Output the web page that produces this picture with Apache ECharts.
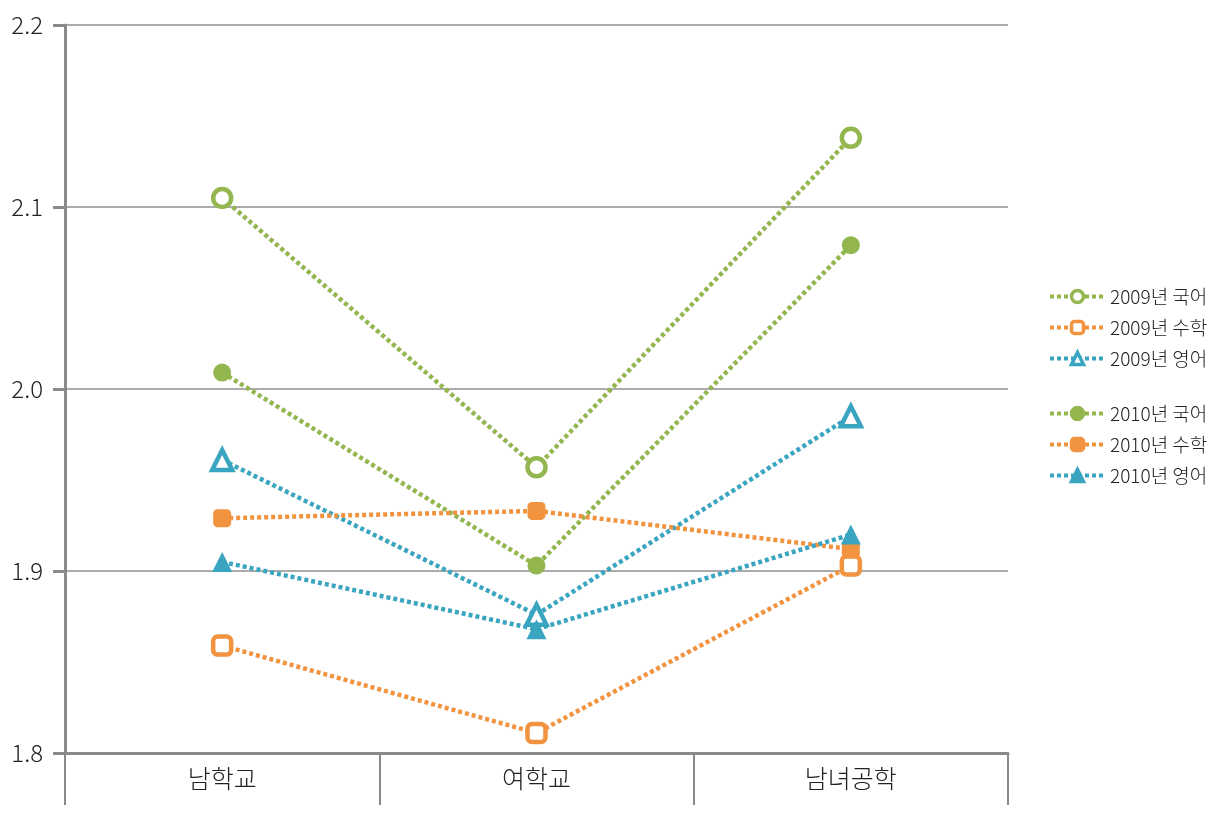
<!DOCTYPE html>
<html>
<head>
<meta charset="utf-8">
<script src="https://cdn.jsdelivr.net/npm/echarts@6/dist/echarts.min.js"></script>
<style>
  html, body { margin: 0; padding: 0; background: #fff; }
  #chart { width: 1219px; height: 817px; }
</style>
</head>
<body>
<div id="chart"></div>
<script>
// 학교 유형
var categories = ["남학교", "여학교", "남녀공학"];
// 2009년
var kor2009 = [2.105, 1.957, 2.138];
var math2009 = [1.859, 1.811, 1.903];
var eng2009 = [1.961, 1.876, 1.985];
// 2010년
var kor2010 = [2.009, 1.903, 2.079];
var math2010 = [1.929, 1.933, 1.912];
var eng2010 = [1.905, 1.868, 1.920];

var GREEN = "#93b64f";
var ORANGE = "#f29340";
var BLUE = "#3aa5c0";
var FONT = "'Noto Sans CJK KR', 'Noto Sans', sans-serif";

function makeSeries(name, data, color, symbol, hollow) {
  return {
    name: name,
    type: "line",
    data: data,
    symbol: symbol,
    symbolSize: symbol === "triangle" ? 20 : 18,
    showAllSymbol: true,
    lineStyle: { color: color, width: 4.5, type: [4, 3] },
    itemStyle: hollow
      ? { color: "#fff", borderColor: color, borderWidth: 4.5 }
      : { color: color, borderColor: color, borderWidth: 0 },
    emphasis: { disabled: true },
    z: hollow ? 3 : 4,
  };
}

var chart = echarts.init(document.getElementById("chart"));
var legendText = { fontSize: 19, color: "#222", fontFamily: FONT, fontWeight: 300 };
function makeLegend(top, names) {
  return {
    orient: "vertical",
    left: 1043,
    top: top,
    itemWidth: 55,
    itemHeight: 15,
    itemGap: 12,
    textStyle: legendText,
    lineStyle: { width: 4, type: [4, 3] },
    itemStyle: { borderWidth: 3.5 },
    data: names,
  };
}
var option = {
  animation: false,
  backgroundColor: "#fff",
  grid: { left: 65, right: 211, top: 25, bottom: 64 },
  legend: [
    makeLegend(282, ["2009년 국어", "2009년 수학", "2009년 영어"]),
    makeLegend(399, ["2010년 국어", "2010년 수학", "2010년 영어"]),
  ],
  xAxis: {
    type: "category",
    data: categories,
    boundaryGap: true,
    axisLine: { lineStyle: { color: "#8a8a8a", width: 3 } },
    axisTick: { show: true, length: 52, lineStyle: { color: "#8a8a8a", width: 2 } },
    axisLabel: { fontSize: 25, color: "#222", fontFamily: FONT, fontWeight: 300, margin: 13 },
    splitLine: { show: false },
  },
  yAxis: {
    type: "value",
    min: 1.8,
    max: 2.2,
    interval: 0.1,
    axisLine: { show: true, lineStyle: { color: "#8a8a8a", width: 3 } },
    axisTick: { show: true, inside: false, length: 12, lineStyle: { color: "#8a8a8a", width: 3 } },
    axisLabel: {
      fontSize: 24,
      color: "#222",
      fontFamily: FONT,
      fontWeight: 300,
      margin: 22,
      formatter: function (v) { return v.toFixed(1); },
    },
    splitLine: { show: true, lineStyle: { color: "#ababab", width: 2 } },
  },
  series: [
    makeSeries("2009년 국어", kor2009, GREEN, "circle", true),
    makeSeries("2009년 수학", math2009, ORANGE, "roundRect", true),
    makeSeries("2009년 영어", eng2009, BLUE, "triangle", true),
    makeSeries("2010년 국어", kor2010, GREEN, "circle", false),
    makeSeries("2010년 수학", math2010, ORANGE, "roundRect", false),
    makeSeries("2010년 영어", eng2010, BLUE, "triangle", false),
  ],
};
chart.setOption(option);
</script>
</body>
</html>
